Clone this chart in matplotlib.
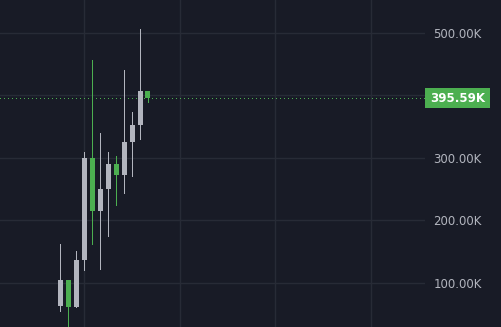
import matplotlib
matplotlib.use("Agg")
import matplotlib.pyplot as plt
from matplotlib.patches import Rectangle

# ---- datos (en miles) ----
opens  = [63.7, 104.8, 62.1, 136.8, 300.0, 215.7, 250.4, 290.4, 273.3, 325.6, 352.8, 407.2]
highs  = [162.4, 104.8, 151.2, 309.6, 456.8, 340.0, 309.6, 303.2, 440.8, 373.6, 506.4, 407.2]
lows   = [55.7, 31.7, 62.1, 121.3, 162.4, 122.9, 175.7, 225.3, 244.5, 271.7, 330.9, 390.1]
closes = [104.8, 62.1, 136.8, 300.0, 215.7, 250.4, 290.4, 273.3, 325.6, 352.8, 407.2, 395.59]
last_price = 395.59
price_ticks = [100, 200, 300, 400, 500]
price_labels = ["100.00K", "200.00K", "300.00K", "", "500.00K"]
time_grid = [3, 15, 27, 39]

bg = "#181b26"
grid_c = "#272b36"
up_c = "#b2b5be"
down_c = "#4caf50"
text_c = "#b2b5be"

fig = plt.figure(figsize=(5.01, 3.27), dpi=100, facecolor=bg)
ax = fig.add_axes([0, 0, 425 / 501, 1])
ax.set_facecolor(bg)

x = list(range(len(opens)))
colors = [up_c if c >= o else down_c for o, c in zip(opens, closes)]

# mechas
ax.vlines(x, lows, highs, colors=colors, linewidth=0.72, zorder=3, antialiased=False)
# cuerpos
bottoms = [min(o, c) for o, c in zip(opens, closes)]
heights = [abs(c - o) for o, c in zip(opens, closes)]
ax.bar(x, heights, bottom=bottoms, width=0.63, color=colors, zorder=4, linewidth=0)

ax.set_xlim(-7.57, 45.76)
ax.set_ylim(29.6, 552.8)

for t in time_grid:
    ax.axvline(t, color=grid_c, linewidth=1, zorder=1)
ax.set_yticks(price_ticks)
ax.set_yticklabels(price_labels)
ax.yaxis.tick_right()
ax.tick_params(axis="y", length=0, pad=6, labelsize=8.5, labelcolor=text_c)
ax.set_xticks([])
ax.grid(axis="y", color=grid_c, linewidth=1, zorder=1)
for s in ax.spines.values():
    s.set_visible(False)

# linea de ultimo precio
ax.axhline(last_price, color=down_c, linewidth=0.72, linestyle=(0, (1, 3)), zorder=2, antialiased=False)

# etiqueta de precio
ylab = ax.transData.transform((0, last_price))[1]
h = 20 / 327
yc = ylab / 327
fig.patches.append(Rectangle((425 / 501, yc - h / 2), 65 / 501, h, transform=fig.transFigure,
                             facecolor=down_c, edgecolor="none"))
fig.text(458 / 501, yc, f"{last_price:.2f}K", color="white", fontsize=8.6, fontweight="bold",
         ha="center", va="center")

fig.savefig("out.png", dpi=100, facecolor=bg)
